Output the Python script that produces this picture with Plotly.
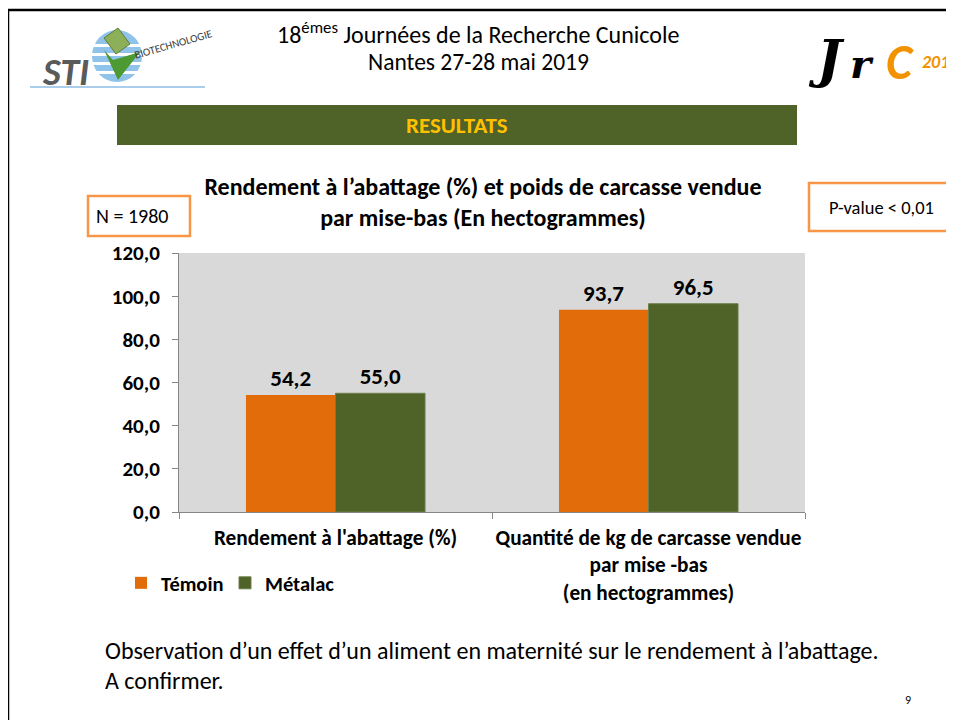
import plotly.graph_objects as go

categories = ["Rendement à l'abattage (%)",
              "Quantité de kg de carcasse vendue<br>par mise -bas<br>(en hectogrammes)"]
temoin = [54.2, 93.7]
metalac = [55.0, 96.5]
series_names = ["Témoin", "Métalac"]
tick_values = [0, 20, 40, 60, 80, 100, 120]

W, H = 954, 720
OFF = 8  # page body offset compensation
L, R, T, B = 179, 805, 253, 512
FONT = "Carlito, Calibri, Lato, sans-serif"
ORANGE = "#E36C0A"
GREEN = "#4F6228"

def px(x):
    return (x - L) / (R - L)

def py(y):
    return (B - y) / (B - T)

fig = go.Figure()
fig.add_trace(go.Bar(x=categories, y=temoin, name=series_names[0], legend="legend",
                     marker=dict(color=ORANGE, line=dict(width=0)),
                     texttemplate="%{y:.1f}", textposition="outside",
                     textfont=dict(family=FONT, size=23, color="black", weight="bold"),
                     cliponaxis=False))
fig.add_trace(go.Bar(x=categories, y=metalac, name=series_names[1], legend="legend2",
                     marker=dict(color=GREEN, line=dict(width=1, color="#6B7F48")),
                     texttemplate="%{y:.1f}", textposition="outside",
                     textfont=dict(family=FONT, size=23, color="black", weight="bold"),
                     cliponaxis=False))

def rect(x0, x1, y0, y1, **kw):
    return dict(type="rect", xref="paper", yref="paper", x0=px(x0), x1=px(x1),
                y0=py(y0), y1=py(y1), **kw)

shapes = [
    # page border
    dict(type="line", xref="paper", yref="paper", x0=px(8), x1=px(970), y0=py(10), y1=py(10),
         line=dict(color="black", width=2.5)),
    dict(type="line", xref="paper", yref="paper", x0=px(8), x1=px(8), y0=py(10), y1=py(740),
         line=dict(color="black", width=2.5)),
    # RESULTATS band
    rect(117, 797, 105, 145, fillcolor=GREEN, line=dict(width=0), layer="below"),
    # N box
    rect(88, 190, 196, 236, fillcolor="white", line=dict(color="#F79646", width=2.5)),
    # P-value box
    rect(809, 952, 183, 231, fillcolor="white", line=dict(color="#F79646", width=2.5)),
    # STI logo (approximation)
    dict(type="line", xref="paper", yref="paper", x0=px(30), x1=px(205), y0=py(87), y1=py(87),
         line=dict(color="#A9CDEB", width=2)),
    dict(type="circle", xref="paper", yref="paper", x0=px(92), x1=px(142), y0=py(30), y1=py(82),
         fillcolor="#8FC3EA", line=dict(width=0)),
    rect(92, 142, 44, 47, fillcolor="white", line=dict(width=0)),
    rect(92, 142, 53, 56, fillcolor="white", line=dict(width=0)),
    rect(92, 142, 62, 65, fillcolor="white", line=dict(width=0)),
    rect(92, 142, 71, 74, fillcolor="white", line=dict(width=0)),
    dict(type="path", xref="paper", yref="paper",
         path="M {0},{1} L {2},{3} L {4},{5} L {6},{7} Z".format(
             px(104), py(50), px(113), py(60), px(140), py(52), px(118), py(80)),
         fillcolor="#4E9A32", line=dict(width=0)),
    dict(type="path", xref="paper", yref="paper",
         path="M {0},{1} L {2},{3} L {4},{5} L {6},{7} Z".format(
             px(104), py(38), px(118), py(28), px(130), py(44), px(116), py(54)),
         fillcolor="#8DAF5A", line=dict(color="#5E7E36", width=1)),
]

def ann(text, x, y, size, color="black", anchor="center", weight="normal", family=FONT, angle=0):
    return dict(text=text, x=px(x), y=py(y), xref="paper", yref="paper", showarrow=False,
                xanchor=anchor, yanchor="middle", textangle=angle,
                font=dict(family=family, size=size, color=color, weight=weight))

annotations = [
    ann("18<sup>émes</sup> Journées de la Recherche Cunicole", 478, 33, 24),
    ann("Nantes 27-28 mai 2019", 478, 62, 23.5),
    ann("RESULTATS", 457, 125, 23, color="#FFC000", weight="bold"),
    ann("N = 1980", 132, 216, 20),
    ann("P-value < 0,01", 881, 208, 18.5),
    ann("Observation d’un effet d’un aliment en maternité sur le rendement à l’abattage.",
        103, 650, 24, anchor="left"),
    ann("A confirmer.", 103, 680, 24, anchor="left"),
    ann("9", 908, 700, 12),
    # STI logo texts
    ann("<i>STI</i>", 65, 72, 38, color="#5A5A5A", weight="bold"),
    ann("BIOTECHNOLOGIE", 173, 44, 11, color="#3A3A3A", angle=-16),
    # JRC logo (approximation)
    ann("<i>J</i>", 826, 58, 52, family="DejaVu Serif", weight="bold"),
    ann("<i>r</i>", 862, 64, 40, family="DejaVu Serif", weight="bold"),
    ann("<i>C</i>", 900, 62, 50, color="#F39200", weight="bold"),
    ann("<i>201</i>", 935, 62, 18, color="#F39200", weight="bold"),
]

legend_common = dict(orientation="h", xanchor="left", yanchor="middle",
                     xref="paper", yref="paper", bgcolor="rgba(0,0,0,0)",
                     font=dict(family=FONT, size=20.5, color="black", weight="bold"),
                     itemclick=False)

fig.update_layout(
    width=W, height=H,
    margin=dict(l=L - OFF, r=W - R + OFF, t=T - OFF, b=H - B + OFF, pad=0, autoexpand=False),
    paper_bgcolor="white", plot_bgcolor="#D9D9D9",
    separators=", ",
    barmode="group", bargap=0.428, bargroupgap=0,
    font=dict(family=FONT, color="black"),
    title=dict(text="Rendement à l’abattage (%) et poids de carcasse vendue<br>par mise-bas (En hectogrammes)",
               x=(483 - OFF) / W, xanchor="center", y=1 - (195 - OFF) / H, yanchor="middle",
               yref="container", automargin=False,
               font=dict(family=FONT, size=24, color="black", weight="bold")),
    showlegend=True,
    legend=dict(x=px(121), y=py(583), **legend_common),
    legend2=dict(x=px(225), y=py(583), **legend_common),
    xaxis=dict(showline=True, linecolor="#868686", linewidth=1, ticks="outside",
               tickson="boundaries", ticklen=6, tickcolor="#868686", showgrid=False,
               tickangle=0, automargin=False,
               tickfont=dict(family=FONT, size=21.3, color="black", weight="bold"),
               ticklabelstandoff=6),
    yaxis=dict(range=[0, 120], tickvals=tick_values, tickformat=".1f", showline=True,
               linecolor="#868686", linewidth=1, ticks="outside", ticklen=6, tickcolor="#868686",
               showgrid=False, zeroline=False, automargin=False,
               tickfont=dict(family=FONT, size=21, color="black", weight="bold"),
               ticklabelstandoff=8),
    shapes=shapes, annotations=annotations,
)

fig.write_html("out.html")
